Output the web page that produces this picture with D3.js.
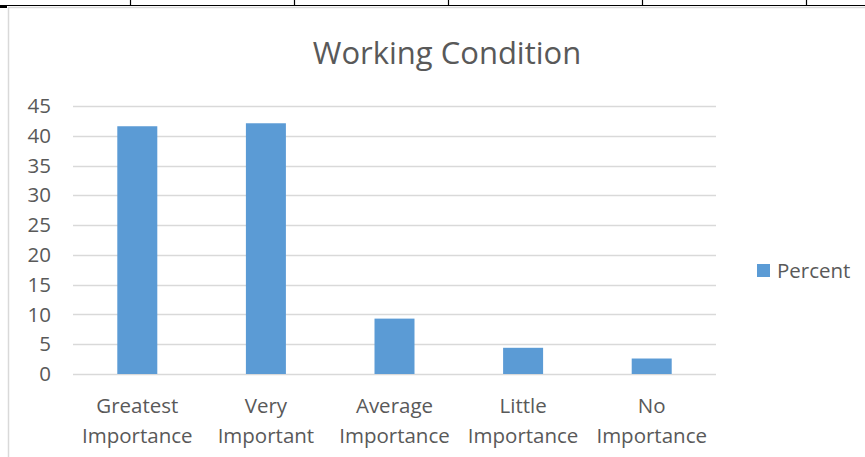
<!DOCTYPE html>
<html>
<head>
<meta charset="utf-8">
<script src="https://cdn.jsdelivr.net/npm/d3@7"></script>
<style>
  body { margin: 0; background: #fff; }
  svg { display: block; font-family: "Open Sans", sans-serif; }
</style>
</head>
<body>
<div id="chart"></div>
<script>
// data
const categories = [
  ['Greatest', 'Importance'],
  ['Very', 'Important'],
  ['Average', 'Importance'],
  ['Little', 'Importance'],
  ['No', 'Importance']
];
const percentValues = [41.6, 42.1, 9.3, 4.4, 2.6];
const yTicks = [0, 5, 10, 15, 20, 25, 30, 35, 40, 45];
const seriesName = 'Percent';
const chartTitle = 'Working Condition';
const tableColumnEdges = [130, 294, 448, 642, 806];

const width = 865;
const height = 457;
const plot = {left: 73, right: 716, top: 106, bottom: 374};
const textColor = '#595959';
const gridColor = '#d9d9d9';
const barColor = '#5b9bd5';
const labelSize = 20.5;

const svg = d3.select('#chart')
  .append('svg')
  .attr('width', width)
  .attr('height', height);

// table border from the document the chart sits in
svg.append('line')
  .attr('x1', 0).attr('x2', width)
  .attr('y1', 5.5).attr('y2', 5.5)
  .attr('stroke', '#000').attr('stroke-width', 1.2);
svg.append('g')
  .selectAll('line')
  .data(tableColumnEdges)
  .enter()
  .append('line')
  .attr('x1', (d) => d + 0.5).attr('x2', (d) => d + 0.5)
  .attr('y1', 0).attr('y2', 6)
  .attr('stroke', '#000').attr('stroke-width', 1.2);
svg.append('rect')
  .attr('x', 0).attr('y', 6)
  .attr('width', 7).attr('height', 2)
  .attr('fill', '#000');

// chart area frame
svg.append('rect')
  .attr('x', 8.5).attr('y', 7.5)
  .attr('width', width + 20).attr('height', height + 20)
  .attr('fill', '#fff')
  .attr('stroke', gridColor)
  .attr('stroke-width', 1.5);

// title
svg.append('text')
  .attr('x', 447)
  .attr('y', 64)
  .attr('text-anchor', 'middle')
  .attr('font-size', 31)
  .attr('fill', textColor)
  .text(chartTitle);

const x = d3.scaleBand()
  .domain(d3.range(categories.length))
  .range([plot.left, plot.right])
  .paddingInner(0.689)
  .paddingOuter(0.3445);

const y = d3.scaleLinear()
  .domain([0, 45])
  .range([plot.bottom, plot.top]);

// gridlines
svg.append('g')
  .selectAll('line')
  .data(yTicks)
  .enter()
  .append('line')
  .attr('x1', plot.left).attr('x2', plot.right)
  .attr('y1', (d) => Math.round(y(d)) + 0.5)
  .attr('y2', (d) => Math.round(y(d)) + 0.5)
  .attr('stroke', gridColor)
  .attr('stroke-width', 1.3);

// y axis labels
const yAxis = d3.axisLeft(y)
  .tickValues(yTicks)
  .tickSize(0)
  .tickPadding(0);
svg.append('g')
  .attr('transform', 'translate(51, 0)')
  .call(yAxis)
  .call((g) => g.select('.domain').remove())
  .selectAll('text')
  .attr('font-family', '"Open Sans", sans-serif')
  .attr('font-size', labelSize)
  .attr('fill', textColor);

// bars
svg.append('g')
  .selectAll('rect')
  .data(percentValues)
  .enter()
  .append('rect')
  .attr('x', (d, i) => x(i))
  .attr('y', (d) => y(d))
  .attr('width', x.bandwidth())
  .attr('height', (d) => y(0) - y(d))
  .attr('fill', barColor);

// category labels
const catLabels = svg.append('g')
  .selectAll('text')
  .data(categories)
  .enter()
  .append('text')
  .attr('text-anchor', 'middle')
  .attr('font-size', labelSize)
  .attr('fill', textColor);
catLabels.selectAll('tspan')
  .data((d, i) => d.map((line) => ({line: line, i: i})))
  .enter()
  .append('tspan')
  .attr('x', (d) => x(d.i) + x.bandwidth() / 2)
  .attr('y', (d, j) => 413 + j * 30)
  .text((d) => d.line);

// legend
const legend = svg.append('g').attr('transform', 'translate(757, 264)');
legend.append('rect')
  .attr('width', 13).attr('height', 13)
  .attr('fill', barColor);
legend.append('text')
  .attr('x', 20)
  .attr('y', 14)
  .attr('font-size', labelSize)
  .attr('fill', textColor)
  .text(seriesName);
</script>
</body>
</html>
